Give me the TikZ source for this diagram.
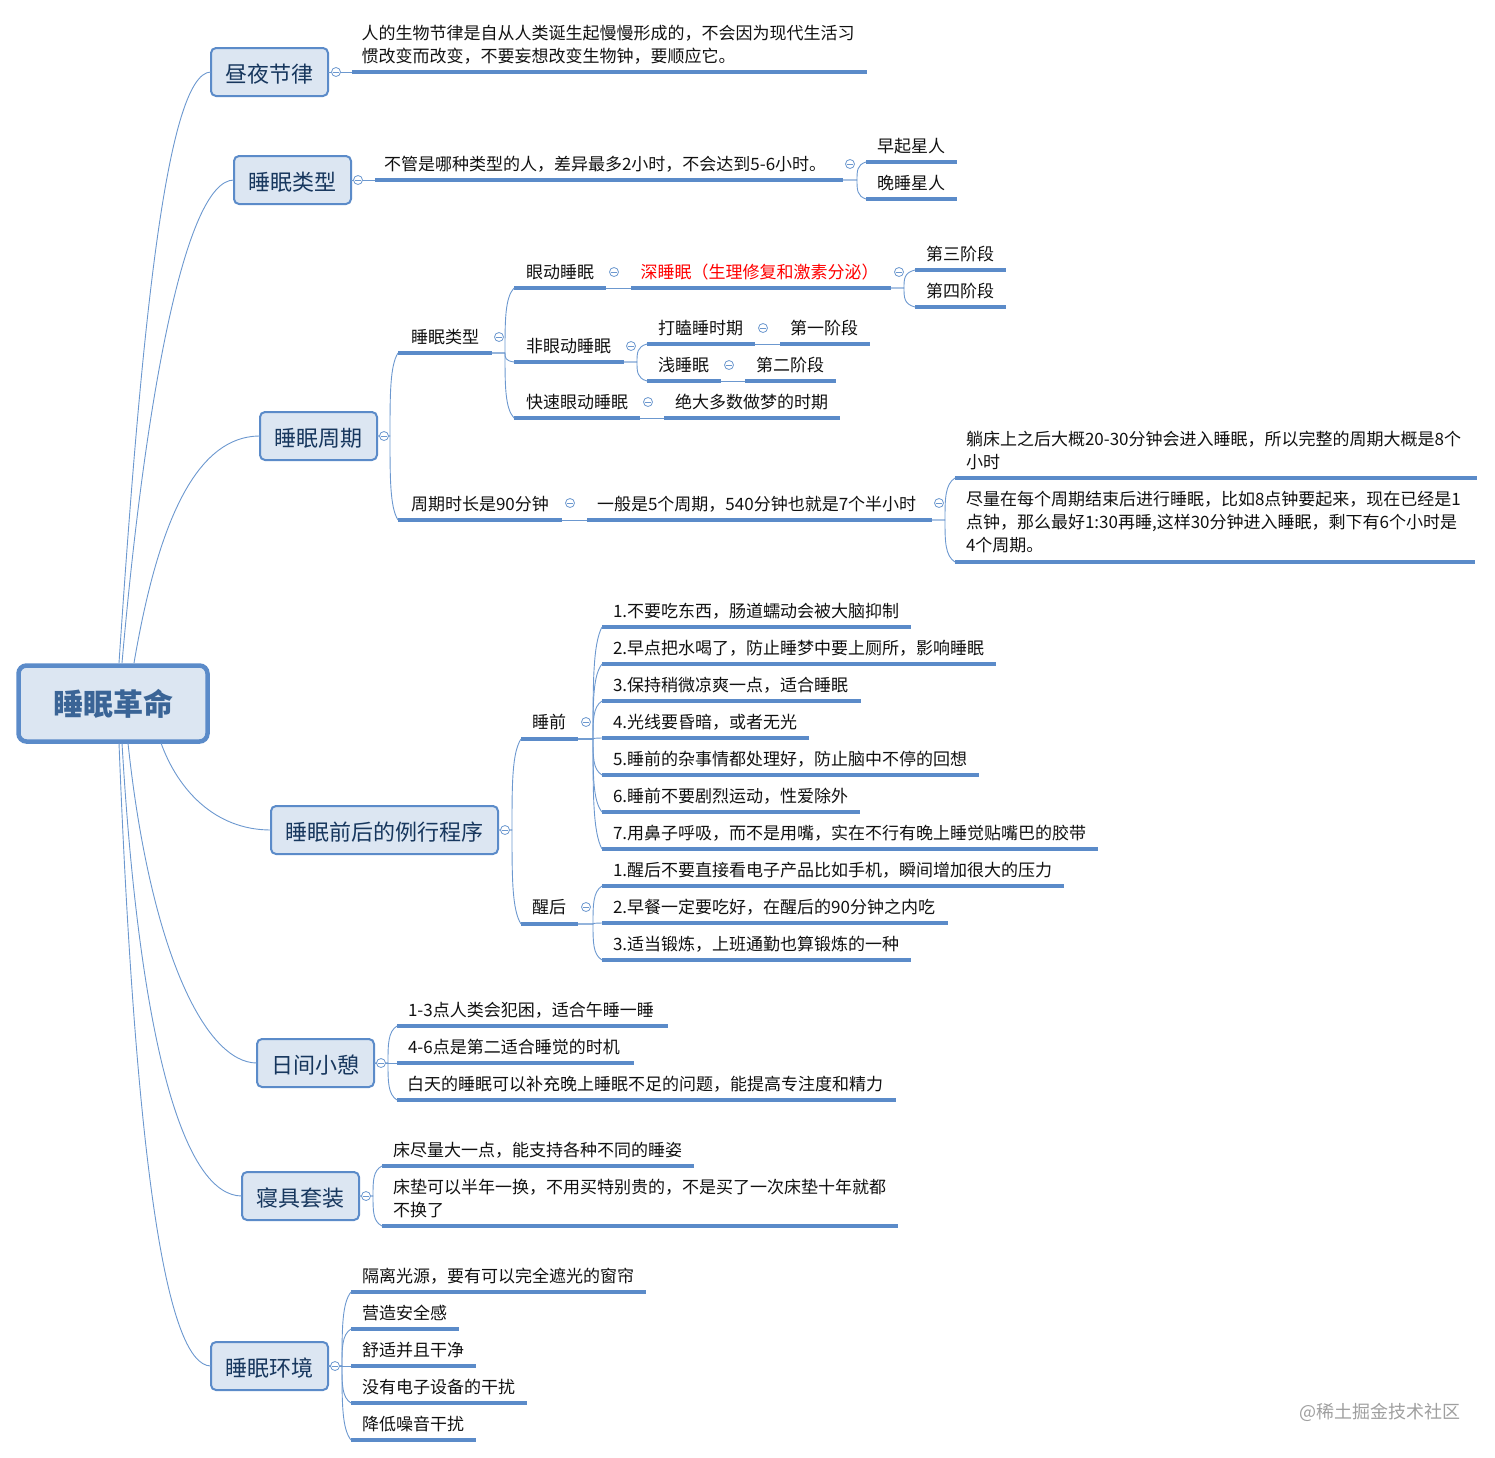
\documentclass[tikz,border=0pt]{standalone}
\usepackage{fontspec}
\usepackage{xcolor}
\setmainfont{Noto Sans CJK SC}
\usetikzlibrary{calc}
\definecolor{mapline}{HTML}{5B8BC9}
\definecolor{mapthin}{HTML}{6C98CF}
\definecolor{mapfill}{HTML}{DCE6F2}
\definecolor{topicink}{HTML}{17375E}
\definecolor{rootink}{HTML}{3A6496}
\definecolor{leafink}{HTML}{111111}
\newcommand\mapstrut{\rule[-4pt]{0pt}{21pt}}
\newcommand\mapnudge[1]{\hspace*{#1pt}}
\newcommand\mapleaf[7][]{%
  \pgfmathsetlengthmacro\leafw{#4-#3}%
  \pgfmathsetlengthmacro\leaft{#4-#3-22}%
  \pgfmathsetlengthmacro\leafh{2*(#5-#6)}%
  \node[leaf,minimum width=\leafw,text width=\leaft,minimum height=\leafh,#1] (#2) at (#3,#5) {\mapstrut#7\mapstrut};
  \draw[under] (#2.south west) -- (#2.south east);
}
\newcommand\mapfork[3]{%
  \draw[conn] (#1) -- ++(#2,0) coordinate (t) .. controls ($(t)!.5!(t|-#3.south west)$) and ($(t|-#3.south west)!.15!(t)$) .. (#3.south west);
}
\newcommand\maplink[2]{\draw[conn] (#1) -- (#2.south west);}
\newcommand\mapdot[3]{\node[toggle] (#1) at (#2,#3) {};}
\tikzset{
  leaf/.style={anchor=south west,inner xsep=11pt,inner ysep=0pt,outer sep=0pt,align=left,text=leafink,font=\fontsize{17}{23}\selectfont},
  under/.style={draw=mapline,line width=3.2pt},
  conn/.style={draw=mapthin,line width=.9pt},
  topic/.style={draw=mapline,fill=mapfill,line width=2pt,rounded corners=5pt,minimum height=48pt,inner sep=0pt,outer sep=0pt,text=topicink,text height=20pt,text depth=0pt,font=\fontsize{22}{26}\selectfont},
  root/.style={draw=mapline,fill=mapfill,line width=4.5pt,rounded corners=8pt,minimum width=189pt,minimum height=76pt,inner sep=0pt,outer sep=0pt,text=rootink,text height=24pt,text depth=0pt,font=\fontsize{30}{34}\selectfont\bfseries},
  toggle/.style={circle,draw=mapthin,fill=white,line width=.8pt,minimum size=9pt,inner sep=0pt,
    path picture={\draw[mapthin,line width=.8pt] ([xshift=-2.6pt]path picture bounding box.center) -- ([xshift=2.6pt]path picture bounding box.center);}},
  marktext/.style={text=gray!75,font=\fontsize{18}{22}\selectfont},
}
\begin{document}
\begin{tikzpicture}[x=1pt,y=-1pt]
\useasboundingbox (0,0) rectangle (1495,1457);
% root and topics
\node[root] (root) at (113,703.5) {睡眠革命};
\node[topic,minimum width=117pt] (t1) at (269.5,72) {昼夜节律};
\node[topic,minimum width=117pt] (t2) at (292.5,180) {睡眠类型};
\node[topic,minimum width=117pt] (t3) at (318.5,436) {睡眠周期};
\node[topic,minimum width=227pt] (t4) at (384.5,830) {睡眠前后的例行程序};
\node[topic,minimum width=117pt] (t5) at (315.5,1063) {日间小憩};
\node[topic,minimum width=117pt] (t6) at (300.5,1196) {寝具套装};
\node[topic,minimum width=117pt] (t7) at (269.5,1366) {睡眠环境};
\coordinate (s1) at (119,663);
\coordinate (s2) at (122,663);
\coordinate (s3) at (134,663);
\coordinate (s4) at (161,743);
\coordinate (s5) at (128,743);
\coordinate (s6) at (122,743);
\coordinate (s7) at (119,743);
\draw[conn] (s1) .. controls (140,350) and (165,72) .. (t1.west);
\draw[conn] (s2) .. controls (145,400) and (185,180) .. (t2.west);
\draw[conn] (s3) .. controls (155,540) and (190,436) .. (t3.west);
\draw[conn] (s4) .. controls (178,790) and (215,830) .. (t4.west);
\draw[conn] (s5) .. controls (150,950) and (205,1063) .. (t5.west);
\draw[conn] (s6) .. controls (140,1050) and (185,1196) .. (t6.west);
\draw[conn] (s7) .. controls (135,1150) and (165,1366) .. (t7.west);
% topic 1
\mapleaf{a1}{352}{867}{72}{44.5}{\mapnudge{-1.5}人的生物节律是自从人类诞生起慢慢形成的，不会因为现代生活习\\\mapnudge{-1.5}惯改变而改变，不要妄想改变生物钟，要顺应它。}
\maplink{t1.east}{a1}
% topic 2
\mapleaf{b1}{375}{843}{180}{164}{\mapnudge{-2}不管是哪种类型的人，差异最多2小时，不会达到5-6小时。}
\mapleaf{b11}{866}{957}{162}{146}{早起星人}
\mapleaf{b12}{866}{957}{199}{183}{晚睡星人}
\maplink{t2.east}{b1}
\mapfork{b1.south east}{14}{b11}
\mapfork{b1.south east}{14}{b12}
% topic 3
\mapleaf{c1}{398}{492}{353}{337}{\mapnudge{2}睡眠类型}
\mapleaf{c11}{514}{606}{288}{272}{\mapnudge{1}眼动睡眠}
\mapleaf[text=red]{c111}{631}{891}{288}{272}{\mapnudge{-1.5}深睡眠（生理修复和激素分泌）}
\mapleaf{c1111}{915}{1006}{270}{254}{第三阶段}
\mapleaf{c1112}{915}{1006}{307}{291}{第四阶段}
\mapleaf{c12}{514}{624}{362}{346}{\mapnudge{1}非眼动睡眠}
\mapleaf{c121}{647}{755}{344}{328}{打瞌睡时期}
\mapleaf{c1211}{780}{870}{344}{328}{\mapnudge{-1}第一阶段}
\mapleaf{c122}{647}{721}{381}{365}{浅睡眠}
\mapleaf{c1221}{745}{836}{381}{365}{第二阶段}
\mapleaf{c13}{514}{640}{418}{402}{\mapnudge{1}快速眼动睡眠}
\mapleaf{c131}{664}{840}{418}{402}{绝大多数做梦的时期}
\mapleaf{c2}{398}{562}{520}{503.5}{\mapnudge{2}周期时长是90分钟}
\mapleaf{c21}{587}{932}{520}{503.5}{\mapnudge{-1}一般是5个周期，540分钟也就是7个半小时}
\mapleaf{c211}{955}{1477}{478}{450.5}{躺床上之后大概20-30分钟会进入睡眠，所以完整的周期大概是8个\\小时}
\mapleaf{c212}{955}{1475}{562}{522}{尽量在每个周期结束后进行睡眠，比如8点钟要起来，现在已经是1\\点钟，那么最好1:30再睡,这样30分钟进入睡眠，剩下有6个小时是\\4个周期。}
\mapfork{t3.east}{13}{c1}
\mapfork{t3.east}{13}{c2}
\mapfork{c1.south east}{13}{c11}
\mapfork{c1.south east}{13}{c12}
\mapfork{c1.south east}{13}{c13}
\maplink{c11.south east}{c111}
\mapfork{c111.south east}{13}{c1111}
\mapfork{c111.south east}{13}{c1112}
\mapfork{c12.south east}{13}{c121}
\mapfork{c12.south east}{13}{c122}
\maplink{c121.south east}{c1211}
\maplink{c122.south east}{c1221}
\maplink{c13.south east}{c131}
\maplink{c2.south east}{c21}
\mapfork{c21.south east}{13}{c211}
\mapfork{c21.south east}{13}{c212}
% topic 4
\mapleaf{d1}{521}{578}{739}{722}{睡前}
\mapleaf{d11}{602}{911}{627}{611}{1.不要吃东西，肠道蠕动会被大脑抑制}
\mapleaf{d12}{602}{996}{664}{648}{2.早点把水喝了，防止睡梦中要上厕所，影响睡眠}
\mapleaf{d13}{602}{861}{701}{685}{3.保持稍微凉爽一点，适合睡眠}
\mapleaf{d14}{602}{809}{738}{722}{4.光线要昏暗，或者无光}
\mapleaf{d15}{602}{979}{775}{759}{5.睡前的杂事情都处理好，防止脑中不停的回想}
\mapleaf{d16}{602}{860}{812}{796}{6.睡前不要剧烈运动，性爱除外}
\mapleaf{d17}{602}{1098}{849}{833}{7.用鼻子呼吸，而不是用嘴，实在不行有晚上睡觉贴嘴巴的胶带}
\mapleaf{d2}{521}{578}{924}{907}{醒后}
\mapleaf{d21}{602}{1064}{886}{870}{1.醒后不要直接看电子产品比如手机，瞬间增加很大的压力}
\mapleaf{d22}{602}{948}{923}{907}{2.早餐一定要吃好，在醒后的90分钟之内吃}
\mapleaf{d23}{602}{911}{960}{944}{3.适当锻炼，上班通勤也算锻炼的一种}
\mapfork{t4.east}{14}{d1}
\mapfork{t4.east}{14}{d2}
\mapfork{d1.south east}{15}{d11}
\mapfork{d1.south east}{15}{d12}
\mapfork{d1.south east}{15}{d13}
\mapfork{d1.south east}{15}{d14}
\mapfork{d1.south east}{15}{d15}
\mapfork{d1.south east}{15}{d16}
\mapfork{d1.south east}{15}{d17}
\mapfork{d2.south east}{15}{d21}
\mapfork{d2.south east}{15}{d22}
\mapfork{d2.south east}{15}{d23}
% topic 5
\mapleaf{e1}{397}{668}{1026}{1010}{1-3点人类会犯困，适合午睡一睡}
\mapleaf{e2}{397}{634}{1063}{1047}{4-6点是第二适合睡觉的时机}
\mapleaf{e3}{397}{896}{1100}{1084}{\mapnudge{-1}白天的睡眠可以补充晚上睡眠不足的问题，能提高专注度和精力}
\mapfork{t5.east}{14}{e1}
\mapfork{t5.east}{14}{e2}
\mapfork{t5.east}{14}{e3}
% topic 6
\mapleaf{f1}{382}{694}{1166}{1150}{床尽量大一点，能支持各种不同的睡姿}
\mapleaf{f2}{382}{898}{1226}{1198.5}{床垫可以半年一换，不用买特别贵的，不是买了一次床垫十年就都\\不换了}
\mapfork{t6.east}{14}{f1}
\mapfork{t6.east}{14}{f2}
% topic 7
\mapleaf{g1}{351}{646}{1292}{1276}{隔离光源，要有可以完全遮光的窗帘}
\mapleaf{g2}{351}{459}{1329}{1313}{营造安全感}
\mapleaf{g3}{351}{476}{1366}{1350}{舒适并且干净}
\mapleaf{g4}{351}{527}{1403}{1387}{没有电子设备的干扰}
\mapleaf{g5}{351}{476}{1440}{1424}{降低噪音干扰}
\mapfork{t7.east}{14}{g1}
\mapfork{t7.east}{14}{g2}
\mapfork{t7.east}{14}{g3}
\mapfork{t7.east}{14}{g4}
\mapfork{t7.east}{14}{g5}
% collapse toggles
\mapdot{k1}{336}{72}
\mapdot{k2}{358}{180}
\mapdot{k3}{384}{436}
\mapdot{k4}{505}{830}
\mapdot{k5}{381}{1063}
\mapdot{k6}{366}{1196}
\mapdot{k7}{335}{1366}
\mapdot{k8}{850}{164}
\mapdot{k9}{499}{337}
\mapdot{k10}{614}{272}
\mapdot{k11}{899}{272}
\mapdot{k12}{631}{346}
\mapdot{k13}{763}{328}
\mapdot{k14}{729}{365}
\mapdot{k15}{648}{402}
\mapdot{k16}{570}{503}
\mapdot{k17}{939}{503}
\mapdot{k18}{586}{722}
\mapdot{k19}{586}{907}
% watermark
\node[marktext,anchor=east,inner sep=0pt] (mark) at (1461,1412) {@稀土掘金技术社区};
\end{tikzpicture}
\end{document}
